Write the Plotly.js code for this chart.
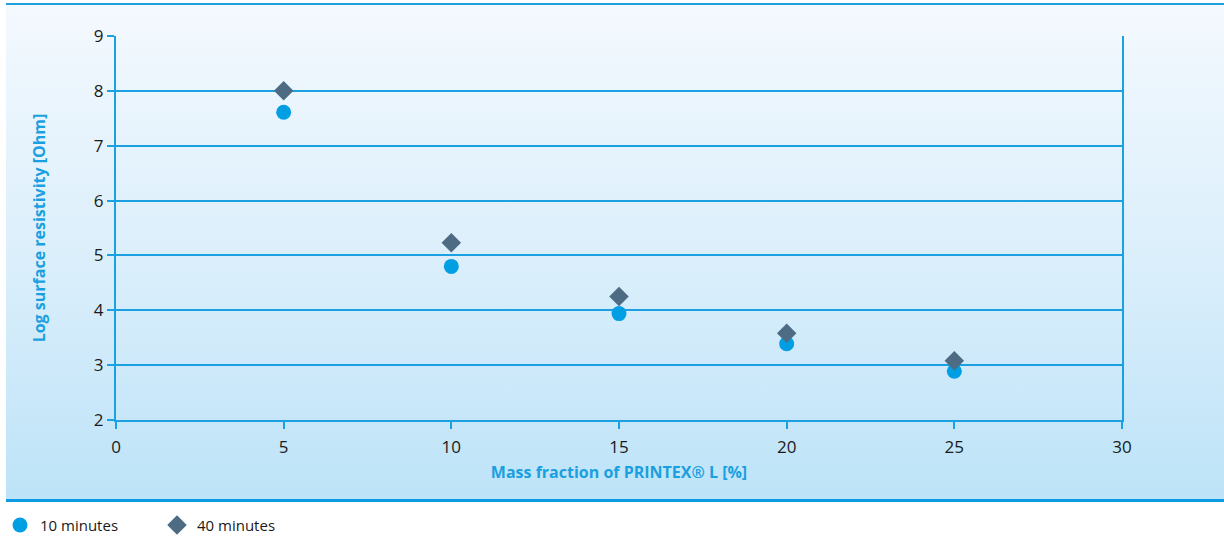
<!DOCTYPE html>
<html>
<head>
<meta charset="utf-8">
<script src="https://cdn.plot.ly/plotly-3.0.1.min.js"></script>
<style>
  body { margin: 0; background: #fff; }
  #wrap { position: relative; width: 1224px; height: 537px; }
  #panel {
    position: absolute; left: 6px; top: 3px; width: 1218px; height: 494px;
    background: linear-gradient(to bottom, #f4f9fe 0%, #d9eefb 55%, #bde3f8 100%);
    border-top: 2px solid #1ea0e1;
    border-bottom: 3px solid #0a9be0;
  }
  #chart { position: absolute; left: 0; top: 0; width: 1224px; height: 537px; }
</style>
</head>
<body>
<div id="wrap">
  <div id="panel"></div>
  <div id="chart"></div>
</div>
<script>
// mass fraction of PRINTEX L [%]
var massFraction = [5, 10, 15, 20, 25];
// log surface resistivity [Ohm]
var min10 = [7.61, 4.80, 3.94, 3.39, 2.89];
var min40 = [8.00, 5.23, 4.25, 3.58, 3.08];

var blue = '#1ba0e2';
var font = 'Open Sans, sans-serif';

var trace10 = {
    x: massFraction,
    y: min10,
    type: 'scatter',
    mode: 'markers',
    name: '10 minutes',
    marker: { symbol: 'circle', size: 15, color: '#009fe3' }
};
var trace40 = {
    x: massFraction,
    y: min40,
    type: 'scatter',
    mode: 'markers',
    name: '40 minutes',
    marker: { symbol: 'diamond', size: 15, color: '#4d6c84' }
};

var layout = {
    width: 1224,
    height: 537,
    paper_bgcolor: 'rgba(0,0,0,0)',
    plot_bgcolor: 'rgba(0,0,0,0)',
    margin: { l: 116, r: 102, t: 36, b: 117 },
    font: { family: font, size: 17, color: '#1a1a1a' },
    showlegend: true,
    legend: {
        orientation: 'h',
        xref: 'container', yref: 'container',
        x: 0, xanchor: 'left',
        y: 0.022, yanchor: 'middle',
        bgcolor: 'rgba(0,0,0,0)',
        font: { family: font, size: 15, color: '#1a1a1a' },
        entrywidth: 112, entrywidthmode: 'pixels'
    },
    xaxis: {
        range: [0, 30],
        tickvals: [0, 5, 10, 15, 20, 25, 30],
        automargin: false,
        showgrid: false,
        zeroline: false,
        showline: true, linecolor: blue, linewidth: 2,
        ticks: 'outside', ticklen: 7, tickcolor: blue, tickwidth: 2,
        ticklabelstandoff: 4,
        title: {
            text: '<b>Mass fraction of PRINTEX® L [%]</b>',
            font: { family: font, size: 16, color: '#1a9fe0' },
            standoff: 9
        }
    },
    yaxis: {
        range: [2, 9],
        dtick: 1,
        automargin: false,
        showgrid: true, gridcolor: blue, gridwidth: 2,
        zeroline: false,
        showline: true, linecolor: blue, linewidth: 2, mirror: true,
        ticks: 'outside', ticklen: 7, tickcolor: blue, tickwidth: 2,
        title: {
            text: '<b>Log surface resistivity [Ohm]</b>',
            font: { family: font, size: 16, color: '#1a9fe0' },
            standoff: 44
        }
    }
};

Plotly.newPlot('chart', [trace10, trace40], layout, { displayModeBar: false, staticPlot: true });
</script>
</body>
</html>
